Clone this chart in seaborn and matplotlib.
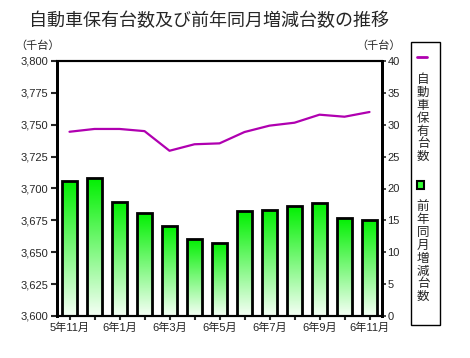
import numpy as np
import pandas as pd
import matplotlib
matplotlib.use("Agg")
import matplotlib.pyplot as plt
import seaborn as sns
from matplotlib.colors import LinearSegmentedColormap
from matplotlib.patches import Rectangle
from matplotlib.lines import Line2D
from matplotlib.ticker import FuncFormatter, MultipleLocator

# === DATA ===
months = ['5年11月', '5年12月', '6年1月', '6年2月', '6年3月', '6年4月', '6年5月',
          '6年6月', '6年7月', '6年8月', '6年9月', '6年10月', '6年11月']
shown_labels = ['5年11月', '', '6年1月', '', '6年3月', '', '6年5月',
                '', '6年7月', '', '6年9月', '', '6年11月']
total_vehicles = [3744.5, 3746.7, 3746.7, 3745.0, 3729.6, 3734.7, 3735.4,
                  3744.3, 3749.3, 3751.6, 3757.9, 3756.3, 3760.0]   # 千台
yoy_change = [21.2, 21.7, 17.9, 16.2, 14.1, 12.1, 11.5,
              16.4, 16.7, 17.3, 17.8, 15.4, 15.1]                  # 千台

title = '自動車保有台数及び前年同月増減台数の推移'
line_label = '自動車保有台数'
bar_label = '前年同月増減台数'

df = pd.DataFrame({'month': months, 'total': total_vehicles, 'yoy': yoy_change,
                   'pos': np.arange(len(months))})

# === STYLE ===
sns.set_theme(style="white")
plt.rcParams['font.family'] = ['Liberation Sans', 'Noto Sans CJK JP', 'DejaVu Sans']

fig = plt.figure(figsize=(4.7, 3.58), dpi=100)
ax = fig.add_axes([57 / 470, 1 - 316 / 358, 325 / 470, 255 / 358])
ax2 = ax.twinx()

# bars on right axis, filled with a green-to-white gradient
sns.barplot(data=df, x='month', y='yoy', ax=ax2, width=0.6,
            edgecolor='black', linewidth=2, facecolor='none', errorbar=None)
green = LinearSegmentedColormap.from_list('g', ['#f6fff6', '#00f000'])
grad = np.linspace(0, 1, 256).reshape(-1, 1)
for p in ax2.patches:
    x0, y0 = p.get_x(), p.get_y()
    w, h = p.get_width(), p.get_height()
    im = ax2.imshow(grad, cmap=green, origin='lower', aspect='auto',
                    extent=[x0, x0 + w, y0, y0 + h], zorder=1)
    im.set_clip_path(p)
    p.set_zorder(2)

# line on left axis
sns.lineplot(data=df, x='pos', y='total', ax=ax, color='#b000b0', linewidth=1.6)
ax.set_zorder(ax2.get_zorder() + 1)
ax.patch.set_visible(False)

ax.set_xlim(-0.5, len(months) - 0.5)
ax2.set_xlim(-0.5, len(months) - 0.5)
ax.set_ylim(3600, 3800)
ax2.set_ylim(0, 40)
ax.yaxis.set_major_locator(MultipleLocator(25))
ax2.yaxis.set_major_locator(MultipleLocator(5))
ax.yaxis.set_major_formatter(FuncFormatter(lambda v, _: f'{v:,.0f}'))
ax.set_xticks(range(len(months)))
ax.set_xticklabels(shown_labels)
ax2.set_xticks(range(len(months)))
ax2.set_xticklabels(shown_labels)
ax.set_xlabel('')
ax.set_ylabel('')
ax2.set_xlabel('')
ax2.set_ylabel('')

ax.tick_params(axis='y', labelsize=8, length=4, width=1.5, direction='out', left=True, pad=2)
ax2.tick_params(axis='y', labelsize=8, length=3, width=1.2, direction='out', right=True, pad=1)
ax.tick_params(axis='x', labelsize=8, length=3, width=1.5, direction='out', bottom=True, pad=2)
ax2.tick_params(axis='x', labelsize=8, length=3, width=1.5, direction='out', bottom=True, pad=2)

for a in (ax, ax2):
    for side, sp in a.spines.items():
        sp.set_color('black')
        sp.set_linewidth(2 if side in ('left', 'right') else 1.5)

# title and unit labels
fig.text(209 / 470, 1 - 21 / 358, title, ha='center', va='center', fontsize=13)
fig.text(38 / 470, 1 - 46 / 358, '（千台）', ha='center', va='center', fontsize=8)
fig.text(379 / 470, 1 - 46 / 358, '（千台）', ha='center', va='center', fontsize=8)

# custom vertical legend
fig.patches.append(Rectangle((411 / 470, 1 - 325 / 358), 29 / 470, 283 / 358,
                             transform=fig.transFigure, fill=False,
                             edgecolor='black', linewidth=1))
fig.lines.append(Line2D([417 / 470, 427 / 470], [1 - 57 / 358, 1 - 57 / 358],
                        transform=fig.transFigure, color='#b000b0', linewidth=2))
fig.text(423 / 470, 1 - 74 / 358, '\n'.join(line_label), ha='center', va='top',
         fontsize=9, linespacing=1.1)
fig.patches.append(Rectangle((417 / 470, 1 - 189 / 358), 7 / 470, 8 / 358,
                             transform=fig.transFigure, facecolor='#33ff33',
                             edgecolor='black', linewidth=1.5))
fig.text(423 / 470, 1 - 201 / 358, '\n'.join(bar_label), ha='center', va='top',
         fontsize=9, linespacing=1.1)

fig.savefig('out.png', dpi=100)
